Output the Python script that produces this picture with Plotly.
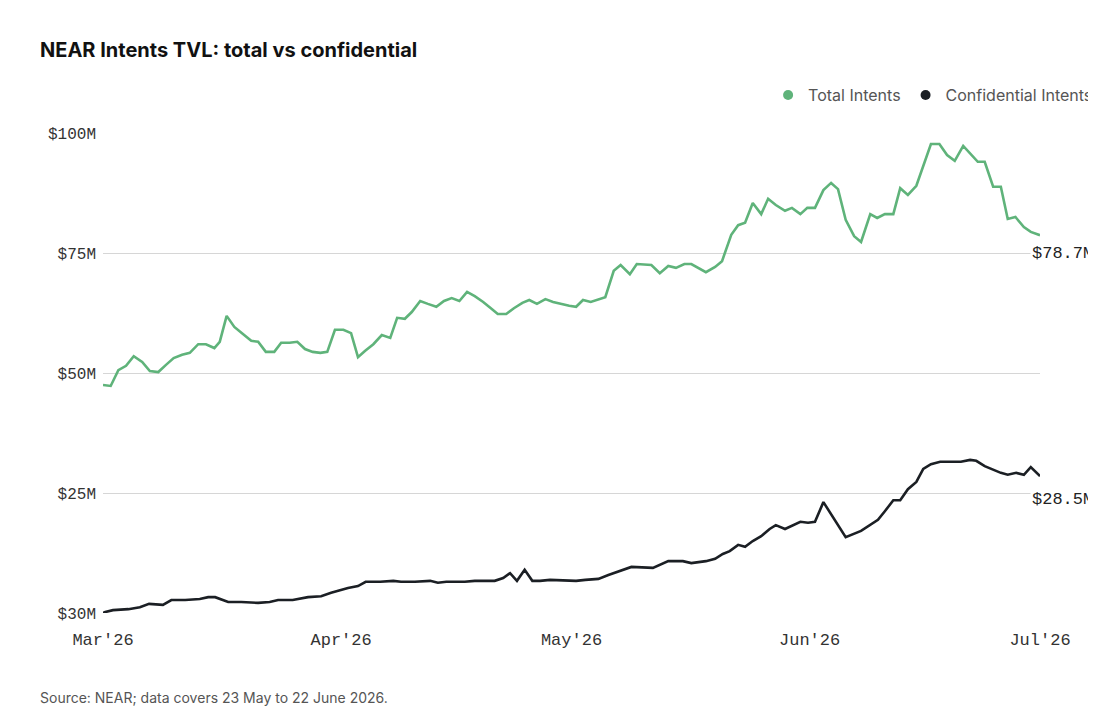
import pandas as pd
import plotly.graph_objects as go

start = pd.Timestamp("2026-03-01")

total_days = [0, 1.0, 2.0, 3.0, 4.0, 5.1, 6.1, 7.2, 8.2, 9.2, 10.3, 11.3, 12.4, 13.4, 14.5, 15.2, 16.1, 17.1, 18.1, 19.3,
              20.2, 21.2, 22.3, 23.2, 24.3, 25.3, 26.3, 27.3, 28.3, 29.2, 30.2, 31.3, 32.3, 33.2, 34.1, 35.2, 36.3, 37.4, 38.3, 39.3,
              40.2, 41.3, 42.3, 43.4, 44.4, 45.4, 46.4, 47.4, 48.4, 49.5, 50.5, 51.4, 52.5, 53.5, 54.6, 55.5, 56.5, 57.6, 58.6, 59.6,
              60.7, 61.6, 62.5, 63.5, 65.4, 66.5, 67.4, 68.6, 69.5, 71.4, 72.5, 73.6, 74.6, 75.7, 76.6, 78.5, 79.7, 80.6, 81.8, 82.7,
              83.6, 84.6, 85.7, 86.6, 87.6, 88.8, 89.7, 90.8, 91.7, 92.7, 93.8, 94.8, 95.7, 96.7, 97.8, 98.7, 99.9, 100.8, 101.8, 102.9,
              103.8, 104.8, 105.9, 107.8, 108.9, 109.9, 110.9, 112.0, 113.0, 113.9, 114.8, 115.9, 116.9, 117.8, 118.8, 119.9, 120.8, 122.0]
total_vals = [47.5, 47.3, 50.6, 51.5, 53.5, 52.3, 50.4, 50.2, 51.7, 53.1, 53.8, 54.2, 56.0, 56.0, 55.2, 56.5, 61.9, 59.6, 58.3, 56.7,
              56.5, 54.4, 54.4, 56.3, 56.3, 56.5, 55.0, 54.4, 54.2, 54.4, 59.0, 59.0, 58.3, 53.3, 54.6, 56.0, 57.9, 57.3, 61.5, 61.3,
              62.7, 65.0, 64.4, 63.8, 65.0, 65.6, 65.0, 66.9, 66.0, 64.8, 63.5, 62.3, 62.3, 63.5, 64.6, 65.2, 64.4, 65.4, 64.8, 64.4,
              64.0, 63.8, 65.2, 64.8, 65.8, 71.3, 72.5, 70.6, 72.7, 72.5, 70.8, 72.3, 71.9, 72.7, 72.7, 71.0, 72.1, 73.3, 78.8, 80.8,
              81.3, 85.4, 83.1, 86.3, 85.0, 83.8, 84.4, 83.1, 84.4, 84.4, 88.1, 89.6, 88.3, 81.9, 78.5, 77.3, 83.1, 82.3, 83.1, 83.1,
              88.5, 87.1, 89.0, 97.7, 97.7, 95.4, 94.2, 97.3, 95.6, 94.0, 94.0, 88.8, 88.8, 82.1, 82.5, 80.4, 79.4, 78.7]

conf_days = [0, 0.3, 1.3, 3.3, 4.8, 6.0, 7.8, 8.9, 10.7, 12.6, 13.7, 14.6, 16.3, 18.0, 20.2, 21.7, 22.8, 24.7, 26.7, 28.4,
             29.7, 31.9, 33.2, 34.2, 36.1, 37.8, 38.8, 40.6, 42.6, 43.6, 44.7, 47.1, 48.4, 51.0, 52.1, 53.0, 53.9, 54.9, 55.9, 56.9,
             58.2, 61.6, 62.8, 64.5, 65.8, 67.4, 68.8, 71.6, 73.6, 75.5, 76.6, 78.5, 79.7, 80.7, 81.6, 82.7, 83.6, 84.6, 85.7, 86.8,
             87.6, 88.8, 90.8, 91.8, 92.7, 93.8, 95.3, 96.7, 98.7, 99.9, 100.9, 101.8, 102.9, 103.8, 104.8, 105.9, 106.8, 107.8, 109.0, 111.7,
             112.9, 113.7, 114.8, 116.9, 117.8, 118.9, 119.9, 120.8, 122.0]
conf_vals = [0.0, 0.2, 0.6, 0.8, 1.2, 1.9, 1.7, 2.7, 2.7, 2.9, 3.3, 3.3, 2.3, 2.3, 2.1, 2.3, 2.7, 2.7, 3.3, 3.5,
             4.2, 5.2, 5.6, 6.5, 6.5, 6.7, 6.5, 6.5, 6.7, 6.3, 6.5, 6.5, 6.7, 6.7, 7.3, 8.3, 6.7, 9.0, 6.7, 6.7,
             6.9, 6.7, 6.9, 7.1, 7.9, 8.8, 9.6, 9.4, 10.8, 10.8, 10.4, 10.8, 11.3, 12.3, 12.9, 14.2, 13.8, 15.0, 16.0, 17.5,
             18.3, 17.5, 19.0, 18.8, 19.0, 23.1, 19.4, 15.8, 17.1, 18.3, 19.4, 21.2, 23.5, 23.5, 25.8, 27.3, 30.0, 31.0, 31.5, 31.5,
             31.9, 31.7, 30.6, 29.2, 28.8, 29.2, 28.8, 30.4, 28.5]

tick_vals = [0, 25, 50, 75, 100]
tick_text = ["$30M", "$25M", "$50M", "$75M", "$100M"]
x_ticks = ["2026-03-01", "2026-04-01", "2026-05-01", "2026-06-01", "2026-07-01"]
x_tick_text = ["Mar'26", "Apr'26", "May'26", "Jun'26", "Jul'26"]

GREEN = "#5fb37a"
DARK = "#1b1f24"
MONO = "Liberation Mono, DejaVu Sans Mono, monospace"
SANS = "Inter, Roboto, Noto Sans, sans-serif"

def to_dates(days):
    return start + pd.to_timedelta(days, unit="D")

fig = go.Figure()
fig.add_trace(go.Scatter(x=to_dates(total_days), y=total_vals, mode="lines",
                         line=dict(color=GREEN, width=2.6), showlegend=False))
fig.add_trace(go.Scatter(x=to_dates(conf_days), y=conf_vals, mode="lines",
                         line=dict(color=DARK, width=2.6), showlegend=False))
fig.add_trace(go.Scatter(x=[None], y=[None], mode="markers", name="Total Intents",
                         marker=dict(color=GREEN, size=10)))
fig.add_trace(go.Scatter(x=[None], y=[None], mode="markers", name="Confidential Intents",
                         marker=dict(color=DARK, size=10)))

fig.add_annotation(x=1.059, xref="paper", y=75, yref="y", text=f"${total_vals[-1]}M",
                   showarrow=False, xanchor="right", yanchor="middle", bgcolor="white",
                   font=dict(family=MONO, size=17, color="#222"))
fig.add_annotation(x=1.059, xref="paper", y=23.7, yref="y", text=f"${conf_vals[-1]}M",
                   showarrow=False, xanchor="right", yanchor="middle", bgcolor="white",
                   font=dict(family=MONO, size=17, color="#222"))

fig.add_annotation(x=-0.069, xref="paper", y=1.173, yref="paper", yanchor="middle", xanchor="left",
                   text="<b>NEAR Intents TVL: total vs confidential</b>", showarrow=False,
                   font=dict(family=SANS, size=20, color="#111"))
fig.add_annotation(x=-0.069, xref="paper", y=-0.177, yref="paper", yanchor="middle", xanchor="left",
                   text="Source: NEAR; data covers 23 May to 22 June 2026.", showarrow=False,
                   font=dict(family=SANS, size=14, color="#555"))

fig.update_layout(
    width=1096, height=724, paper_bgcolor="white", plot_bgcolor="white",
    margin=dict(l=95, r=64, t=125, b=119, autoexpand=False),
    legend=dict(orientation="h", x=1.062, xanchor="right", y=1.079, yanchor="middle",
                font=dict(family=SANS, size=16, color="#555"), itemwidth=30,
                bgcolor="rgba(0,0,0,0)"),
    xaxis=dict(range=["2026-03-01", "2026-07-01"], tickvals=x_ticks, ticktext=x_tick_text,
               showgrid=False, zeroline=False, showline=False, ticks="", automargin=False,
               ticklabelstandoff=14,
               tickfont=dict(family=MONO, size=17, color="#333")),
    yaxis=dict(range=[0, 100], tickvals=tick_vals, ticktext=tick_text, showgrid=True,
               gridcolor="#d6d6d6", gridwidth=1, zeroline=False, ticks="", ticklabelstandoff=6,
               automargin=False,
               tickfont=dict(family=MONO, size=16, color="#333")),
)
fig.write_html("out.html")
